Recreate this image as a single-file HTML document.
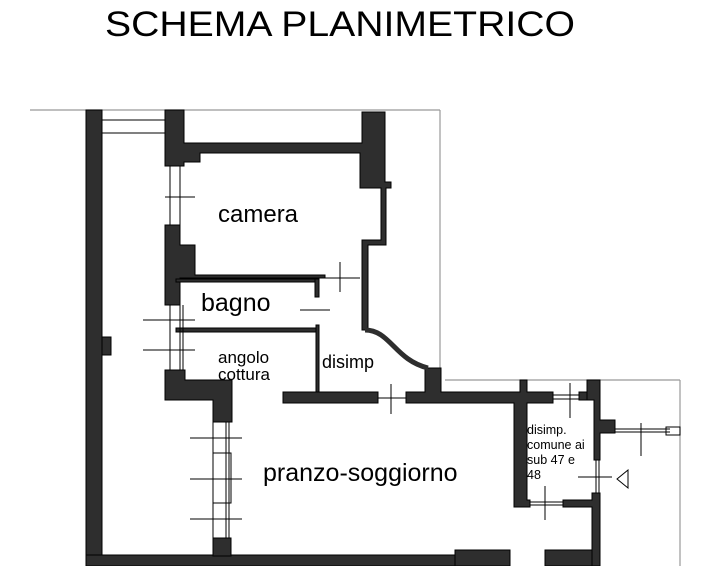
<!DOCTYPE html>
<html><head><style>body{margin:0;background:#fff}svg{display:block}</style></head><body>
<svg width="714" height="566" viewBox="0 0 714 566" xmlns="http://www.w3.org/2000/svg" font-family="Liberation Sans, Arial, sans-serif">
<text x="105" y="36" font-size="35" textLength="470" lengthAdjust="spacingAndGlyphs" fill="#000">SCHEMA PLANIMETRICO</text>
<g stroke="#999" stroke-width="1.2" fill="none">
<line x1="30" y1="110" x2="440" y2="110"/>
<line x1="440" y1="110" x2="440" y2="370"/>
<line x1="445" y1="380" x2="680" y2="380"/>
<line x1="680" y1="380" x2="680" y2="566"/>
</g>
<g fill="#2e2e2e" stroke="#000" stroke-width="1">
<rect x="86" y="110" width="16" height="456"/>
<rect x="102" y="337" width="9" height="18"/>
<rect x="86" y="555" width="370" height="11"/>
<polygon points="165,110 184,110 184,143 362,143 362,112 385,112 385,182 391,182 391,188 386,188 386,245 368,245 368,330 362,330 362,240 381,240 381,188 360,188 360,153 200,153 200,162 184,162 184,166 165,166"/>
<polygon points="165,225 180,225 180,245 195,245 195,275 325,275 325,278 180,278 180,305 165,305"/>
<rect x="176" y="279" width="142" height="3"/>
<rect x="315" y="279" width="4" height="18"/>
<rect x="176" y="328" width="142" height="4"/>
<rect x="316" y="325" width="3" height="70"/>
<polygon points="165,370 185,370 185,380 232,380 232,422 213,422 213,400 165,400"/>
<rect x="213" y="538" width="18" height="18"/>
<rect x="283" y="392" width="95" height="11"/>
<polygon points="406,392 425,392 425,368 441,368 441,392 520,392 520,380 527,380 527,392 553,392 553,403 527,403 527,500 530,500 530,507 514,507 514,403 406,403"/>
<polygon points="587,380 600,380 600,420 615,420 615,433 600,433 600,460 594,460 594,400 587,400 587,392 579,392 579,400 587,400"/>
<polygon points="563,500 592,500 592,493 600,493 600,566 592,566 592,507 563,507"/>
<rect x="455" y="550" width="55" height="16"/>
<rect x="545" y="550" width="47" height="16"/>
</g>
<path d="M365,330 C390,330 395,360 428,368" stroke="#2e2e2e" stroke-width="5" fill="none"/>
<g stroke="#000" stroke-width="1" fill="none">
<line x1="102" y1="120" x2="165" y2="120"/><line x1="102" y1="133" x2="165" y2="133"/>
<line x1="170" y1="166" x2="170" y2="225"/><line x1="180" y1="166" x2="180" y2="225"/>
<line x1="165" y1="197" x2="195" y2="197"/>
<line x1="170" y1="305" x2="170" y2="370"/><line x1="180" y1="305" x2="180" y2="370"/><line x1="183" y1="305" x2="183" y2="370"/>
<line x1="143" y1="320" x2="195" y2="320"/><line x1="143" y1="350" x2="195" y2="350"/>
<line x1="300" y1="310" x2="330" y2="310"/>
<line x1="340" y1="262" x2="340" y2="292"/><line x1="325" y1="278" x2="360" y2="278"/>
<line x1="213" y1="422" x2="213" y2="538"/><line x1="226" y1="422" x2="226" y2="538"/><line x1="229" y1="422" x2="229" y2="538"/>
<rect x="213" y="453" width="18" height="50"/>
<line x1="190" y1="438" x2="242" y2="438"/><line x1="190" y1="479" x2="242" y2="479"/><line x1="190" y1="519" x2="242" y2="519"/>
<line x1="378" y1="398" x2="406" y2="398"/><line x1="391" y1="384" x2="391" y2="414"/>
<line x1="553" y1="395" x2="579" y2="395"/><line x1="553" y1="399" x2="579" y2="399"/><line x1="570" y1="383" x2="570" y2="418"/>
<line x1="615" y1="429" x2="670" y2="429"/><line x1="615" y1="432" x2="670" y2="432"/><rect x="666" y="427" width="14" height="8"/><line x1="641" y1="423" x2="641" y2="456"/>
<line x1="596" y1="460" x2="596" y2="493"/><line x1="599" y1="460" x2="599" y2="493"/><line x1="578" y1="477" x2="612" y2="477"/>
<polygon points="628,470 617,479 628,488"/>
<line x1="530" y1="502" x2="563" y2="502"/><line x1="530" y1="505" x2="563" y2="505"/><line x1="545" y1="486" x2="545" y2="520"/>
</g>
<g fill="#000">
<text x="218" y="222" font-size="24">camera</text>
<text x="201" y="311" font-size="25">bagno</text>
<text x="218" y="363" font-size="17">angolo</text>
<text x="218" y="380" font-size="17">cottura</text>
<text x="322" y="368" font-size="18">disimp</text>
<text x="263" y="481" font-size="25">pranzo-soggiorno</text>
<text x="527" y="434" font-size="12.5">disimp.</text>
<text x="527" y="449" font-size="12.5">comune ai</text>
<text x="527" y="464" font-size="12.5">sub 47 e</text>
<text x="527" y="479" font-size="12.5">48</text>
</g>
</svg>
</body></html>
